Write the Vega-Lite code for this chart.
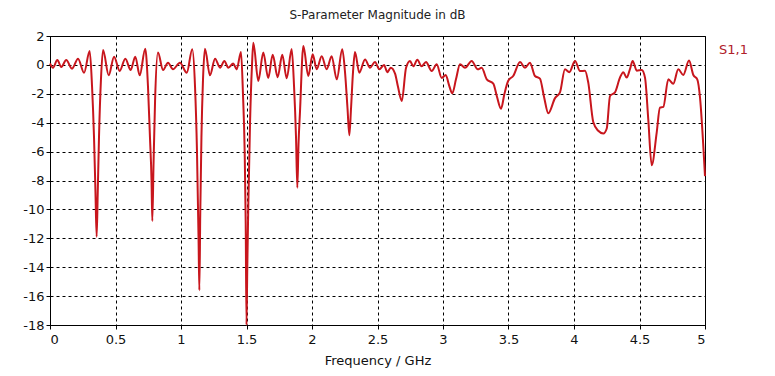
{
  "$schema": "https://vega.github.io/schema/vega-lite/v6.json",
  "width": 655,
  "height": 289,
  "autosize": {"type": "none"},
  "padding": {"left": 50, "top": 36, "right": 70, "bottom": 51},
  "background": "white",
  "config": {
    "view": {"stroke": "black", "strokeWidth": 1},
    "font": "DejaVu Sans",
    "axis": {
      "domainColor": "black",
      "tickColor": "black",
      "gridColor": "black",
      "gridDash": [3, 3],
      "gridOpacity": 1,
      "gridWidth": 1,
      "tickSize": 4,
      "labelColor": "#111111",
      "labelFont": "DejaVu Sans",
      "labelFontSize": 13,
      "titleFont": "DejaVu Sans",
      "titleFontSize": 13,
      "titleFontWeight": "normal",
      "titleColor": "#111111"
    }
  },
  "title": {
    "text": "S-Parameter Magnitude in dB",
    "fontSize": 12,
    "fontWeight": "normal",
    "font": "DejaVu Sans",
    "color": "#222222",
    "anchor": "middle",
    "offset": 8
  },
  "data": {
    "values": [
      {"f": 0, "db": 0.1}, {"f": 0.023, "db": -0.19}, {"f": 0.056, "db": 0.34}, {"f": 0.086, "db": -0.15},
      {"f": 0.124, "db": 0.34}, {"f": 0.168, "db": -0.26}, {"f": 0.214, "db": 0.43}, {"f": 0.26, "db": -0.54},
      {"f": 0.303, "db": 0.96}, {"f": 0.321, "db": -1.5}, {"f": 0.336, "db": -5}, {"f": 0.347, "db": -8.8},
      {"f": 0.356, "db": -11.9}, {"f": 0.364, "db": -9}, {"f": 0.374, "db": -5}, {"f": 0.389, "db": -1},
      {"f": 0.405, "db": 1.03}, {"f": 0.448, "db": -0.72}, {"f": 0.489, "db": 0.57}, {"f": 0.532, "db": -0.42},
      {"f": 0.575, "db": 0.43}, {"f": 0.616, "db": -0.35}, {"f": 0.651, "db": 0.57}, {"f": 0.685, "db": -0.72},
      {"f": 0.727, "db": 1.12}, {"f": 0.748, "db": -1.5}, {"f": 0.763, "db": -5}, {"f": 0.775, "db": -8},
      {"f": 0.781, "db": -10.8}, {"f": 0.79, "db": -7}, {"f": 0.802, "db": -2.5}, {"f": 0.824, "db": 0.85},
      {"f": 0.863, "db": -0.35}, {"f": 0.901, "db": 0.15}, {"f": 0.939, "db": -0.3}, {"f": 0.992, "db": 0.15},
      {"f": 1.044, "db": -0.54}, {"f": 1.086, "db": 1.08}, {"f": 1.107, "db": -1.5}, {"f": 1.122, "db": -6},
      {"f": 1.134, "db": -12}, {"f": 1.14, "db": -15.6}, {"f": 1.147, "db": -10.3}, {"f": 1.156, "db": -5},
      {"f": 1.168, "db": -1}, {"f": 1.183, "db": 1.12}, {"f": 1.221, "db": -0.72}, {"f": 1.26, "db": 0.43},
      {"f": 1.298, "db": -0.19}, {"f": 1.331, "db": 0.27}, {"f": 1.361, "db": -0.19}, {"f": 1.399, "db": 0.1},
      {"f": 1.425, "db": -0.31}, {"f": 1.458, "db": 0.89}, {"f": 1.473, "db": -2}, {"f": 1.486, "db": -6},
      {"f": 1.494, "db": -11}, {"f": 1.5, "db": -18}, {"f": 1.506, "db": -14}, {"f": 1.514, "db": -9.6},
      {"f": 1.527, "db": -4}, {"f": 1.542, "db": 0}, {"f": 1.552, "db": 1.54}, {"f": 1.59, "db": -1.11},
      {"f": 1.628, "db": 0.85}, {"f": 1.666, "db": -0.9}, {"f": 1.7, "db": 0.7}, {"f": 1.738, "db": -0.85},
      {"f": 1.773, "db": 0.7}, {"f": 1.807, "db": -0.93}, {"f": 1.845, "db": 1.1}, {"f": 1.863, "db": -1.5},
      {"f": 1.878, "db": -5}, {"f": 1.888, "db": -8.5}, {"f": 1.897, "db": -5.5}, {"f": 1.908, "db": -3.3},
      {"f": 1.934, "db": 1.3}, {"f": 1.972, "db": -0.77}, {"f": 2.005, "db": 0.73}, {"f": 2.036, "db": -0.3},
      {"f": 2.074, "db": 0.6}, {"f": 2.112, "db": -0.3}, {"f": 2.15, "db": 0.6}, {"f": 2.189, "db": -1.0},
      {"f": 2.231, "db": 1.08}, {"f": 2.252, "db": -0.5}, {"f": 2.271, "db": -3}, {"f": 2.285, "db": -4.87},
      {"f": 2.298, "db": -3}, {"f": 2.313, "db": -0.5}, {"f": 2.328, "db": 0.89}, {"f": 2.361, "db": -0.54},
      {"f": 2.405, "db": 0.38}, {"f": 2.443, "db": -0.19}, {"f": 2.481, "db": 0.2}, {"f": 2.514, "db": -0.3},
      {"f": 2.55, "db": 0.0}, {"f": 2.575, "db": -0.5}, {"f": 2.601, "db": -0.2}, {"f": 2.634, "db": -0.6},
      {"f": 2.656, "db": -1.5}, {"f": 2.685, "db": -2.5}, {"f": 2.718, "db": -0.2}, {"f": 2.748, "db": 0.27},
      {"f": 2.773, "db": -0.1}, {"f": 2.804, "db": 0.35}, {"f": 2.837, "db": -0.1}, {"f": 2.87, "db": 0.2},
      {"f": 2.914, "db": -0.42}, {"f": 2.952, "db": 0.04}, {"f": 2.99, "db": -0.9}, {"f": 3.021, "db": -0.7},
      {"f": 3.046, "db": -1.4}, {"f": 3.071, "db": -1.97}, {"f": 3.099, "db": -1.0}, {"f": 3.13, "db": 0.05},
      {"f": 3.168, "db": -0.2}, {"f": 3.219, "db": 0.27}, {"f": 3.265, "db": -0.3}, {"f": 3.295, "db": -0.2},
      {"f": 3.334, "db": -1.0}, {"f": 3.384, "db": -1.3}, {"f": 3.412, "db": -2.2}, {"f": 3.443, "db": -3.03},
      {"f": 3.469, "db": -2.0}, {"f": 3.498, "db": -1.1}, {"f": 3.537, "db": -0.75}, {"f": 3.588, "db": 0.2},
      {"f": 3.626, "db": -0.2}, {"f": 3.664, "db": 0.15}, {"f": 3.702, "db": -0.77}, {"f": 3.74, "db": -0.95},
      {"f": 3.771, "db": -2.2}, {"f": 3.804, "db": -3.35}, {"f": 3.855, "db": -2.3}, {"f": 3.893, "db": -1.9},
      {"f": 3.931, "db": -0.3}, {"f": 3.964, "db": -0.5}, {"f": 4.008, "db": 0.27}, {"f": 4.046, "db": -0.43},
      {"f": 4.084, "db": -0.4}, {"f": 4.109, "db": -1.23}, {"f": 4.147, "db": -3.95}, {"f": 4.185, "db": -4.56},
      {"f": 4.224, "db": -4.75}, {"f": 4.25, "db": -4.4}, {"f": 4.275, "db": -2.15}, {"f": 4.313, "db": -1.9},
      {"f": 4.351, "db": -0.88}, {"f": 4.376, "db": -0.5}, {"f": 4.402, "db": -0.88}, {"f": 4.427, "db": -0.3},
      {"f": 4.448, "db": 0.27}, {"f": 4.479, "db": -0.4}, {"f": 4.517, "db": -0.35}, {"f": 4.542, "db": -0.88},
      {"f": 4.567, "db": -3.77}, {"f": 4.593, "db": -6.95}, {"f": 4.631, "db": -4.7}, {"f": 4.656, "db": -2.96},
      {"f": 4.682, "db": -2.9}, {"f": 4.72, "db": -1.0}, {"f": 4.758, "db": -1.3}, {"f": 4.796, "db": -0.3},
      {"f": 4.834, "db": -0.7}, {"f": 4.878, "db": 0.3}, {"f": 4.911, "db": -0.7}, {"f": 4.941, "db": -1.0},
      {"f": 4.962, "db": -2.27}, {"f": 4.987, "db": -5.6}, {"f": 5.0, "db": -7.7}
    ]
  },
  "transform": [{"calculate": "'S1,1'", "as": "series"}],
  "mark": {"type": "line", "strokeWidth": 2, "interpolate": "monotone"},
  "encoding": {
    "x": {
      "field": "f",
      "type": "quantitative",
      "title": "Frequency / GHz",
      "scale": {"domain": [0, 5], "nice": false},
      "axis": {
        "values": [0, 0.5, 1, 1.5, 2, 2.5, 3, 3.5, 4, 4.5, 5],
        "labelExpr": "'' + datum.value",
        "labelPadding": 4,
        "titlePadding": 8
      }
    },
    "y": {
      "field": "db",
      "type": "quantitative",
      "title": null,
      "scale": {"domain": [-18, 2], "nice": false, "zero": false},
      "axis": {
        "values": [-18, -16, -14, -12, -10, -8, -6, -4, -2, 0, 2],
        "labelExpr": "'' + datum.value",
        "labelPadding": 2
      }
    },
    "color": {
      "field": "series",
      "type": "nominal",
      "scale": {"range": ["#c8161d"]},
      "legend": {
        "title": null,
        "orient": "none",
        "legendX": 656,
        "legendY": 7,
        "symbolSize": 0,
        "symbolStrokeWidth": 0,
        "symbolOpacity": 0,
        "labelOffset": 0,
        "labelFont": "DejaVu Sans",
        "labelFontSize": 13,
        "labelColor": "#b0202a",
        "padding": 0
      }
    }
  }
}
